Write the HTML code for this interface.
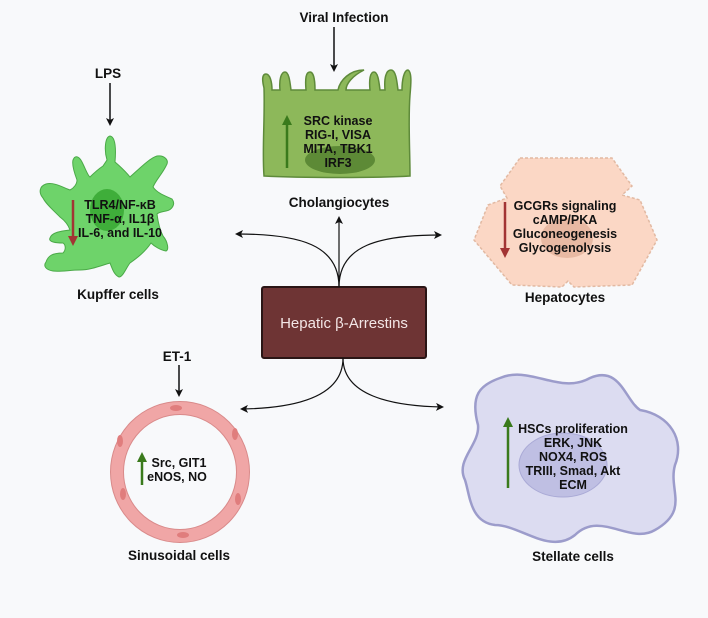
<!DOCTYPE html>
<html><head><meta charset="utf-8"><style>
html,body{margin:0;padding:0;background:#f8f9fb;}
svg{display:block}
text{font-family:"Liberation Sans",sans-serif;font-weight:bold;fill:#111;text-anchor:middle;}
.s{font-size:12.5px}
.l{font-size:13.5px}
</style></head><body>
<svg width="708" height="618" viewBox="0 0 708 618" xmlns="http://www.w3.org/2000/svg">
<defs>
<marker id="ah" markerWidth="8" markerHeight="8" refX="6" refY="4" orient="auto" markerUnits="userSpaceOnUse"><path d="M0,0 L8,4 L0,8 L2,4 Z" fill="#111"/></marker>
<marker id="gh" markerWidth="10" markerHeight="10" refX="5" refY="5" orient="auto" markerUnits="userSpaceOnUse"><path d="M0,0 L10,5 L0,10 Z" fill="#3a7a1c"/></marker>
<marker id="rh" markerWidth="10" markerHeight="10" refX="5" refY="5" orient="auto" markerUnits="userSpaceOnUse"><path d="M0,0 L10,5 L0,10 Z" fill="#a23434"/></marker>
</defs>
<rect width="708" height="618" fill="#f8f9fb"/>

<!-- Viral infection -->
<text x="344" y="22" class="l">Viral Infection</text>
<line x1="334" y1="27" x2="334" y2="70" stroke="#111" stroke-width="1.5" marker-end="url(#ah)"/>
<!-- Cholangiocyte -->
<path d="M264,88 C262,80 262,74 266,74 C270,74 272,82 272,90 L280,90 C279,80 281,72 285,72 C289,72 290,82 291,90 L306,90 C305,78 306,72 310,72 C314,72 315,82 315,90 L338,90 C340,80 350,70 364,70 C352,76 346,84 346,90 L370,90 C369,80 370,72 374,72 C378,72 379,82 380,90 L385,90 C384,78 386,70 391,70 C396,70 397,82 398,90 L402,90 C402,80 404,70 408,70 C412,72 411,84 410,95 C408,120 410,150 410,176 C380,178 300,178 264,176 C262,150 265,120 264,88 Z" fill="#8db85a" stroke="#5e8a3a" stroke-width="1.5"/>
<ellipse cx="340" cy="160" rx="35" ry="14" fill="#5d8a36"/>
<line x1="287" y1="168" x2="287" y2="120" stroke="#3a7a1c" stroke-width="2.5" marker-end="url(#gh)"/>
<text x="338" y="125" class="s">SRC kinase</text>
<text x="338" y="139" class="s">RIG-I, VISA</text>
<text x="338" y="153" class="s">MITA, TBK1</text>
<text x="338" y="167" class="s">IRF3</text>
<text x="339" y="207" class="l">Cholangiocytes</text>

<!-- LPS / Kupffer -->
<text x="108" y="78" class="l">LPS</text>
<line x1="110" y1="83" x2="110" y2="124" stroke="#111" stroke-width="1.5" marker-end="url(#ah)"/>
<path d="M107,160 C104,150 105,137 110,136 C116,137 116,150 115,162 C122,168 126,172 130,177 C140,168 150,158 157,156 C164,155 170,160 166,166 C162,174 156,180 153,187 C158,194 166,196 172,199 C176,204 172,210 166,211 C162,212 159,212 157,214 C158,222 160,230 163,236 C168,242 169,250 166,251 C160,250 154,246 151,243 C145,252 137,258 130,263 C126,268 123,277 119,277 C114,275 112,268 110,263 C100,266 90,270 80,270 C70,270 60,272 53,271 C46,270 43,266 46,262 C48,256 52,253 63,253 C66,250 66,245 63,243 C56,243 48,242 50,238 C52,232 62,231 70,230 C68,224 64,220 60,217 C53,210 46,204 43,198 C38,192 40,186 46,184 C54,182 62,187 70,190 C74,188 77,184 77,180 C74,172 72,164 73,160 C75,155 79,156 82,162 C86,170 88,176 90,177 C95,172 100,168 103,166 Z" fill="#6ed36a" stroke="#4aa947" stroke-width="1"/>
<ellipse cx="107" cy="210" rx="17" ry="21" fill="#3fae3a"/>
<line x1="73" y1="200" x2="73" y2="241" stroke="#a23434" stroke-width="2.5" marker-end="url(#rh)"/>
<text x="120" y="209" class="s">TLR4/NF-κB</text>
<text x="120" y="223" class="s">TNF-α, IL1β</text>
<text x="120" y="237" class="s">IL-6, and IL-10</text>
<text x="118" y="299" class="l">Kupffer cells</text>

<!-- Hepatocyte -->
<path d="M520,158 L612,158 L632,186 L622,195 L640,200 L657,240 L632,285 L574,287 L568,281 L562,287 L512,285 L474,240 L488,205 L507,198 L500,186 Z" fill="#fbd7c5" stroke="#e2b9a2" stroke-width="1.5" stroke-dasharray="3 2"/>
<ellipse cx="567" cy="238" rx="26" ry="20" fill="#e8b9a3"/>
<line x1="505" y1="202" x2="505" y2="253" stroke="#a23434" stroke-width="2.5" marker-end="url(#rh)"/>
<text x="565" y="210" class="s">GCGRs signaling</text>
<text x="565" y="224" class="s">cAMP/PKA</text>
<text x="565" y="238" class="s">Gluconeogenesis</text>
<text x="565" y="252" class="s">Glycogenolysis</text>
<text x="565" y="302" class="l">Hepatocytes</text>

<!-- Center box -->
<rect x="262" y="287" width="164" height="71" rx="2" fill="#6e3434" stroke="#2a1515" stroke-width="2"/>
<text x="344" y="328" style="font-family:'Liberation Sans',sans-serif;font-weight:normal;font-size:15px;fill:#f3e6e6">Hepatic β-Arrestins</text>
<g fill="none" stroke="#111" stroke-width="1.2">
<line x1="339" y1="287" x2="339" y2="218" marker-end="url(#ah)"/>
<path d="M339,287 C339,245 300,234 237,234" marker-end="url(#ah)"/>
<path d="M339,287 C339,245 380,235 440,235" marker-end="url(#ah)"/>
<path d="M343,358 C343,395 300,408 242,409" marker-end="url(#ah)"/>
<path d="M343,358 C343,395 390,406 442,407" marker-end="url(#ah)"/>
</g>

<!-- ET-1 / sinusoid -->
<text x="177" y="361" class="l">ET-1</text>
<line x1="179" y1="365" x2="179" y2="395" stroke="#111" stroke-width="1.5" marker-end="url(#ah)"/>
<ellipse cx="180" cy="472" rx="63" ry="64" fill="none" stroke="#f0a6a6" stroke-width="13"/>
<ellipse cx="180" cy="472" rx="69.5" ry="70.5" fill="none" stroke="#d98a8a" stroke-width="1"/>
<ellipse cx="180" cy="472" rx="56.5" ry="57.5" fill="none" stroke="#d98a8a" stroke-width="1"/>
<g fill="#e07d7d">
<ellipse cx="176" cy="408" rx="6" ry="3"/>
<ellipse cx="235" cy="434" rx="3" ry="6"/>
<ellipse cx="238" cy="499" rx="3" ry="6"/>
<ellipse cx="183" cy="535" rx="6" ry="3"/>
<ellipse cx="123" cy="494" rx="3" ry="6"/>
<ellipse cx="120" cy="441" rx="3" ry="6"/>
</g>
<line x1="142" y1="485" x2="142" y2="457" stroke="#3a7a1c" stroke-width="2.5" marker-end="url(#gh)"/>
<text x="179" y="467" class="s">Src, GIT1</text>
<text x="177" y="481" class="s">eNOS, NO</text>
<text x="179" y="560" class="l">Sinusoidal cells</text>

<!-- Stellate -->
<path d="M500,378 C530,365 560,395 590,378 C620,365 625,400 640,410 C670,415 685,440 675,465 C668,490 690,510 655,530 C630,545 600,510 575,535 C550,555 520,525 495,525 C470,522 470,495 465,480 C455,460 480,445 478,425 C470,395 480,385 500,378 Z" fill="#dcdcf1" stroke="#9c9ccb" stroke-width="2.5"/>
<ellipse cx="563" cy="465" rx="44" ry="32" fill="#bfbfe3" stroke="#aaaad6" stroke-width="1"/>
<line x1="508" y1="488" x2="508" y2="422" stroke="#3a7a1c" stroke-width="2.5" marker-end="url(#gh)"/>
<text x="573" y="433" class="s">HSCs proliferation</text>
<text x="573" y="447" class="s">ERK, JNK</text>
<text x="573" y="461" class="s">NOX4, ROS</text>
<text x="573" y="475" class="s">TRIII, Smad, Akt</text>
<text x="573" y="489" class="s">ECM</text>
<text x="573" y="561" class="l">Stellate cells</text>
</svg>
</body></html>
